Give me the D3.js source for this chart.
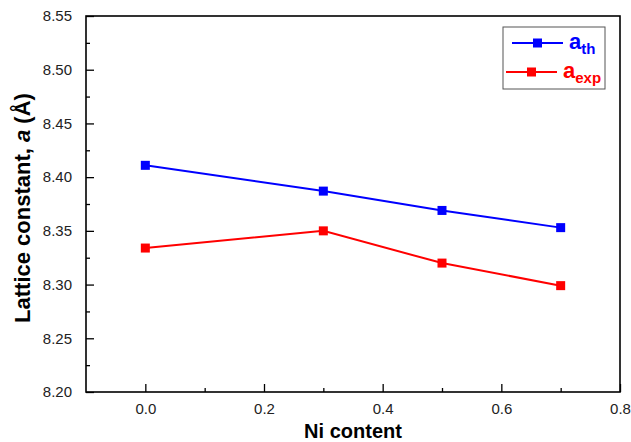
<!DOCTYPE html>
<html>
<head>
<meta charset="utf-8">
<script src="https://cdn.jsdelivr.net/npm/d3@7"></script>
<style>
  body { margin: 0; background: #fff; }
  svg { display: block; }
</style>
</head>
<body>
<svg id="chart" width="631" height="442"></svg>
<script>
const niContent = [0.0, 0.3, 0.5, 0.7];
const aTheory = [8.411, 8.387, 8.369, 8.353];
const aExp = [8.334, 8.350, 8.320, 8.299];
const xTicks = [0.0, 0.2, 0.4, 0.6, 0.8];
const yTicks = [8.20, 8.25, 8.30, 8.35, 8.40, 8.45, 8.50, 8.55];

const svg = d3.select("#chart");
const margin = { top: 16, right: 11, bottom: 50, left: 86 };
const width = 631 - margin.left - margin.right;
const height = 442 - margin.top - margin.bottom;
const font = "'Liberation Sans', Arial, sans-serif";

const chart = svg.append("g").attr("transform", `translate(${margin.left}, ${margin.top})`);

const x = d3.scaleLinear().domain([-0.1, 0.8]).range([0, width]);
const y = d3.scaleLinear().domain([8.20, 8.55]).range([height, 0]);

// minor ticks
chart.append("g")
  .attr("transform", `translate(0, ${height})`)
  .call(d3.axisBottom(x).tickValues([0.1, 0.3, 0.5, 0.7]).tickSize(-4).tickFormat(""))
  .call(g => g.select(".domain").remove())
  .call(g => g.selectAll(".tick line").attr("stroke", "#000").attr("stroke-width", 1.3));

chart.append("g")
  .call(d3.axisLeft(y).tickValues([8.225, 8.275, 8.325, 8.375, 8.425, 8.475, 8.525]).tickSize(-4).tickFormat(""))
  .call(g => g.select(".domain").remove())
  .call(g => g.selectAll(".tick line").attr("stroke", "#000").attr("stroke-width", 1.3));

// major ticks
chart.append("g")
  .attr("transform", `translate(0, ${height})`)
  .call(d3.axisBottom(x).tickValues(xTicks).tickSize(-8).tickPadding(11).tickFormat(d3.format(".1f")))
  .call(g => g.select(".domain").remove())
  .call(g => g.selectAll(".tick line").attr("stroke", "#000").attr("stroke-width", 1.3))
  .call(g => g.selectAll("text").attr("font-family", font).attr("font-size", 15).attr("fill", "#222"));

chart.append("g")
  .call(d3.axisLeft(y).tickValues(yTicks).tickSize(-8).tickPadding(14).tickFormat(d3.format(".2f")))
  .call(g => g.select(".domain").remove())
  .call(g => g.selectAll(".tick line").attr("stroke", "#000").attr("stroke-width", 1.3))
  .call(g => g.selectAll("text").attr("font-family", font).attr("font-size", 15).attr("fill", "#222"));

// frame
chart.append("rect")
  .attr("width", width)
  .attr("height", height)
  .attr("fill", "none")
  .attr("stroke", "#000")
  .attr("stroke-width", 1.6);

const series = [
  { name: "th", values: aTheory, color: "#0000ff" },
  { name: "exp", values: aExp, color: "#ff0000" }
];

const line = d3.line().x(d => x(d[0])).y(d => y(d[1]));

series.forEach(s => {
  const pts = niContent.map((n, i) => [n, s.values[i]]);
  chart.append("path")
    .datum(pts)
    .attr("d", line)
    .attr("fill", "none")
    .attr("stroke", s.color)
    .attr("stroke-width", 2);
  chart.selectAll(null)
    .data(pts)
    .join("rect")
    .attr("x", d => x(d[0]) - 4.5)
    .attr("y", d => y(d[1]) - 4.5)
    .attr("width", 9)
    .attr("height", 9)
    .attr("fill", s.color);
});

// legend
const legend = svg.append("g").attr("transform", "translate(503, 27)");
legend.append("rect")
  .attr("width", 102)
  .attr("height", 62)
  .attr("fill", "#fff")
  .attr("stroke", "#555")
  .attr("stroke-width", 1);

const legendRows = [
  { s: series[0], y: 16, x1: 9, x2: 60, tx: 66 },
  { s: series[1], y: 45, x1: 3, x2: 54, tx: 60 }
];
legendRows.forEach(r => {
  legend.append("line")
    .attr("x1", r.x1).attr("x2", r.x2)
    .attr("y1", r.y).attr("y2", r.y)
    .attr("stroke", r.s.color)
    .attr("stroke-width", 2);
  legend.append("rect")
    .attr("x", (r.x1 + r.x2) / 2 - 4.5)
    .attr("y", r.y - 4.5)
    .attr("width", 9).attr("height", 9)
    .attr("fill", r.s.color);
  const t = legend.append("text")
    .attr("x", r.tx)
    .attr("y", r.y + 6)
    .attr("font-family", font)
    .attr("font-weight", "bold")
    .attr("font-size", 22)
    .attr("fill", r.s.color);
  t.append("tspan").text("a");
  t.append("tspan").attr("dy", 5).attr("font-size", 15).text(r.s.name);
});

// axis titles
svg.append("text")
  .attr("x", margin.left + width / 2)
  .attr("y", 438)
  .attr("text-anchor", "middle")
  .attr("font-family", font)
  .attr("font-weight", "bold")
  .attr("font-size", 20)
  .attr("fill", "#000")
  .text("Ni content");

const yTitle = svg.append("text")
  .attr("transform", "translate(30, 208) rotate(-90)")
  .attr("text-anchor", "middle")
  .attr("font-family", font)
  .attr("font-weight", "bold")
  .attr("font-size", 22)
  .attr("fill", "#000");
yTitle.append("tspan").text("Lattice constant, ");
yTitle.append("tspan").attr("font-style", "italic").text("a");
yTitle.append("tspan").text(" (Å)");
</script>
</body>
</html>
